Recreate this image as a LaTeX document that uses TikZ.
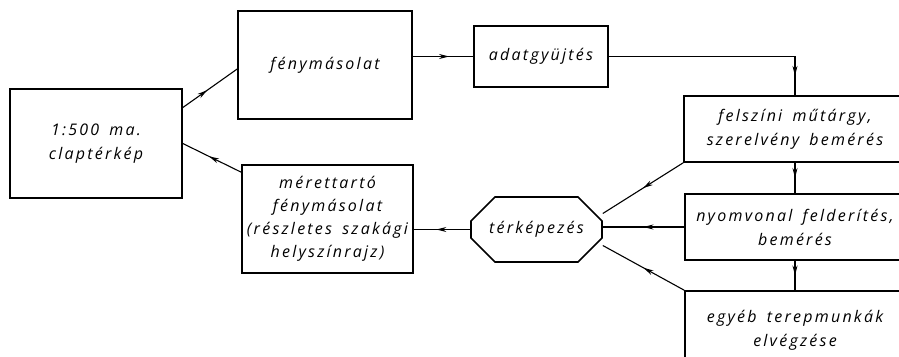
\documentclass[tikz,border=0pt]{standalone}
\usepackage{fontspec}
\setmainfont{Open Sans}[LetterSpace=14,WordSpace=1.6]
\usetikzlibrary{shapes.misc,decorations.markings,arrows.meta,calc}
\begin{document}
\begin{tikzpicture}[x=1pt,y=1pt,
  font=\fontsize{16}{24}\selectfont\itshape,
  box/.style={draw,line width=1.6pt,rectangle,align=center,inner sep=0pt},
  octa/.style={draw,line width=1.6pt,chamfered rectangle,
    chamfered rectangle xsep=20pt,chamfered rectangle ysep=16pt,
    minimum width=131pt,minimum height=65pt,inner sep=0pt},
  link/.style={line width=1.1pt},
  midarrow/.style={link,postaction={decorate},decoration={markings,
    mark=at position #1 with {\arrow{Stealth[length=10pt,width=5pt]}}}},
  midarrow/.default=0.5]
\useasboundingbox (0,0) rectangle (899,356);
\clip (0,0) rectangle (899,356);
\fill[white] (0,0) rectangle (899,356);

% left: base map
\node[box,minimum width=172pt,minimum height=109pt] (lb) at (96,212.5)
  {1:500 ma.\\claptérkép};
% copies
\node[box,minimum width=174pt,minimum height=108pt] (fm) at (325,291)
  {fénymásolat};
\node[box,minimum width=171pt,minimum height=108pt] (mt) at (327.5,137)
  {mérettartó\\[-1pt]fénymásolat\\[-1pt](részletes szakági\\[-1pt]helyszínrajz)};
% data collection and mapping
\node[box,minimum width=134pt,minimum height=61pt] (ad) at (541,299.5)
  {adatgyüjtés};
\node[octa] (tk) at (536.5,126.5) {térképezés};
% field work
\node[box,minimum width=222pt,minimum height=66pt] (fs) at (795,227)
  {felszíni műtárgy,\\szerelvény bemérés};
\node[box,minimum width=220pt,minimum height=66pt] (ny) at (795,129)
  {nyomvonal felderítés,\\bemérés};
\node[box,minimum width=220pt,minimum height=79pt] (eg) at (795,25.5)
  {egyéb terepmunkák\\elvégzése};

% connectors
\coordinate (lbA) at ($(lb.north east)!0.175!(lb.south east)$);
\coordinate (fmA) at ([yshift=-4pt]fm.west);
\draw[midarrow=0.45] (lbA) -- (fmA);
\coordinate (mtA) at ([yshift=-8pt]mt.north west);
\draw[midarrow=0.55] (mtA) -- (lb.east);
\draw[midarrow=0.6] (fm.east |- ad.west) -- (ad.west);
\coordinate (turn) at (fs.north |- ad.east);
\draw[link] (ad.east) -- (turn);
\draw[midarrow] (turn) -- (fs.north);
\draw[midarrow] (fs.south) -- (fs.south |- ny.north);
\draw[midarrow] (ny.south) -- (ny.south |- eg.north);
\coordinate (tkU) at ([yshift=16pt]tk.east);
\coordinate (tkD) at ([yshift=-16pt]tk.east);
\draw[midarrow] (fs.south west) -- (tkU);
\draw[midarrow] (ny.west) -- (tk.east |- ny.west);
\draw[midarrow] (eg.north west) -- (tkD);
\draw[midarrow=0.6] (tk.west) -- (mt.east |- tk.west);
\end{tikzpicture}
\end{document}
